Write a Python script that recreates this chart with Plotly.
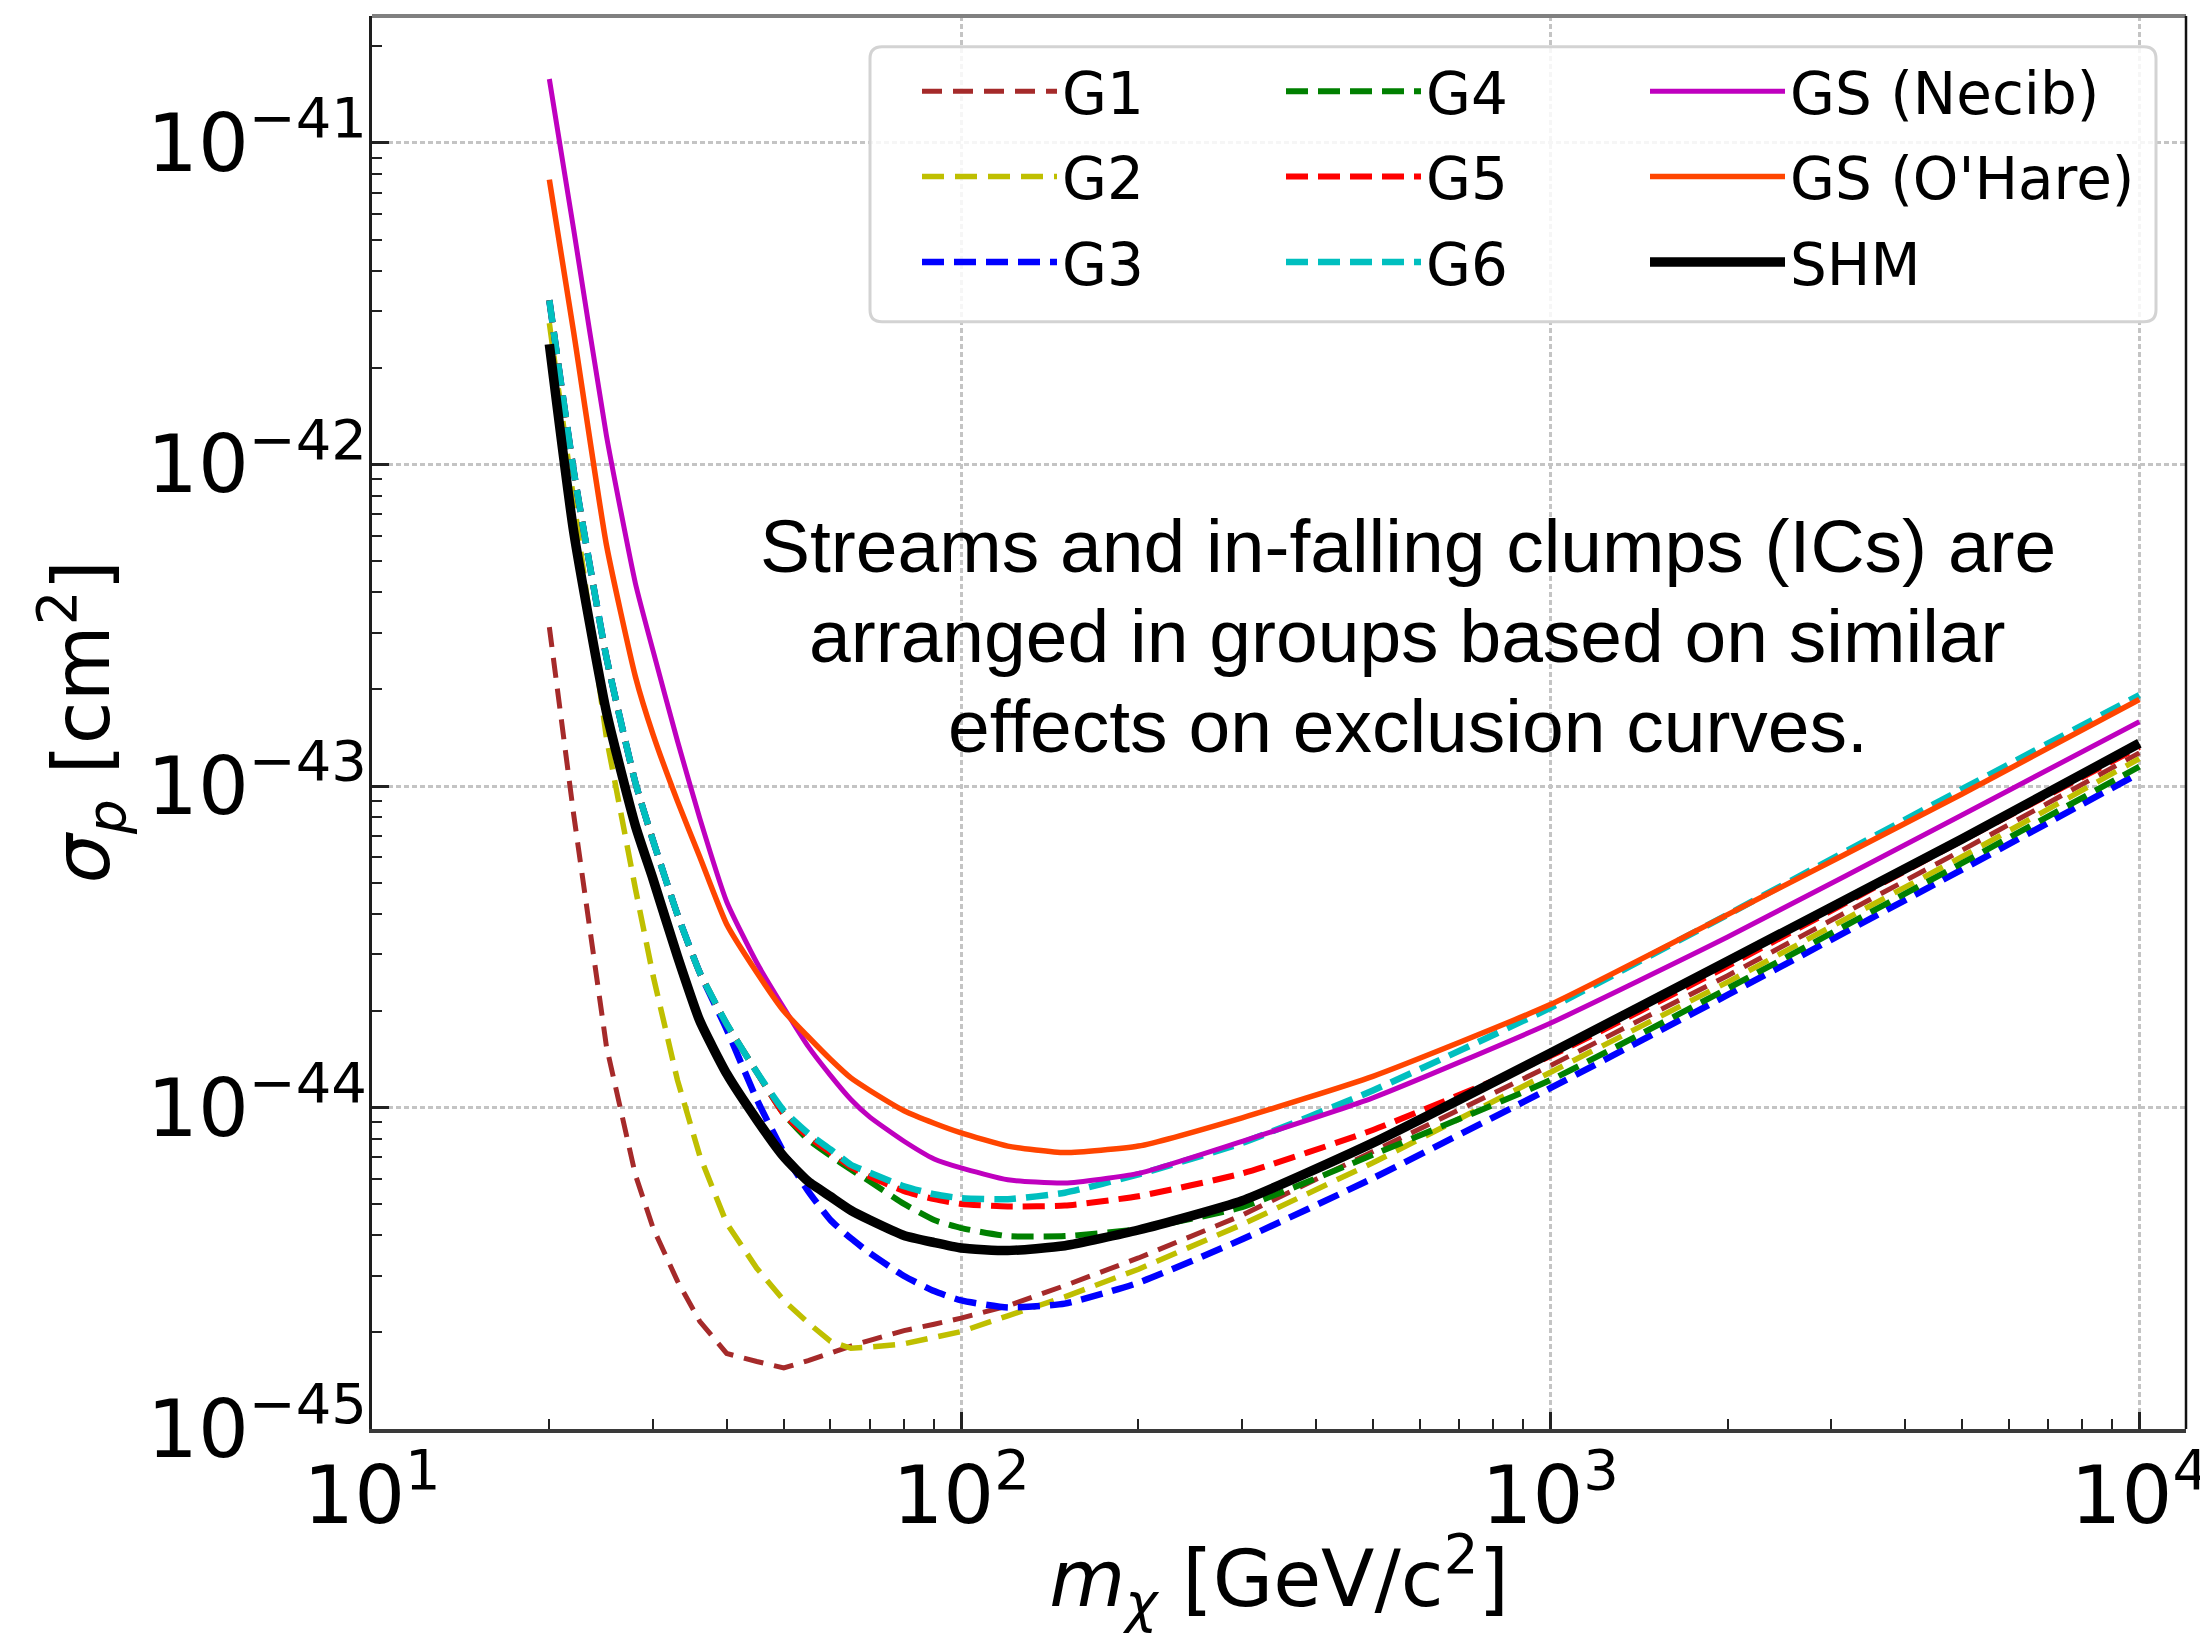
import plotly.graph_objects as go

# ---------------- data ----------------
MASS_GEV = [20, 22, 25, 28, 30, 33, 36, 40, 45, 50, 55, 60, 65, 70, 80, 90,
            100, 120, 150, 200, 300, 500, 1000, 2000, 5000, 10000]

# log10(sigma_p / cm^2) at each mass of MASS_GEV
LOG_SIGMA_G1 = [-42.506, -43.09, -43.81, -44.21, -44.375, -44.54, -44.665, -44.765, -44.79,
                -44.81, -44.787, -44.762, -44.742, -44.724, -44.694, -44.674, -44.655,
                -44.617, -44.554, -44.468, -44.335, -44.137, -43.87, -43.59, -43.20, -42.897]
LOG_SIGMA_G2 = [-41.56, -42.12, -42.85, -43.32, -43.59, -43.915, -44.15, -44.36, -44.50,
                -44.60, -44.67, -44.727, -44.749, -44.745, -44.735, -44.715, -44.697,
                -44.648, -44.589, -44.503, -44.364, -44.172, -43.89, -43.61, -43.22, -42.915]
LOG_SIGMA_G3 = [-41.489, -42.02, -42.60, -42.99, -43.17, -43.40, -43.58, -43.757, -43.975,
                -44.14, -44.26, -44.35, -44.407, -44.453, -44.524, -44.571, -44.60,
                -44.622, -44.61, -44.545, -44.41, -44.22, -43.94, -43.65, -43.26, -42.96]
LOG_SIGMA_G4 = [-41.489, -42.02, -42.60, -42.99, -43.17, -43.40, -43.58, -43.74, -43.89,
                -44.02, -44.10, -44.15, -44.193, -44.23, -44.30, -44.35, -44.375,
                -44.40, -44.40, -44.378, -44.31, -44.147, -43.915, -43.63, -43.24, -42.94]
LOG_SIGMA_G5 = [-41.489, -42.02, -42.60, -42.99, -43.17, -43.40, -43.58, -43.74, -43.89,
                -44.02, -44.09, -44.14, -44.185, -44.215, -44.26, -44.285, -44.30,
                -44.308, -44.305, -44.276, -44.205, -44.07, -43.84, -43.56, -43.17, -42.879]
LOG_SIGMA_G6 = [-41.489, -42.02, -42.60, -42.99, -43.17, -43.40, -43.58, -43.74, -43.89,
                -44.01, -44.08, -44.13, -44.178, -44.203, -44.245, -44.27, -44.282,
                -44.285, -44.265, -44.208, -44.11, -43.947, -43.69, -43.40, -43.01, -42.717]
LOG_SIGMA_GS_NECIB = [-40.801, -41.27, -41.91, -42.37, -42.58, -42.86, -43.10, -43.36, -43.55,
                      -43.69, -43.81, -43.90, -43.975, -44.03, -44.105, -44.16, -44.188,
                      -44.225, -44.235, -44.205, -44.105, -43.97, -43.738, -43.47, -43.09, -42.80]
LOG_SIGMA_GS_OHARE = [-41.114, -41.59, -42.25, -42.66, -42.84, -43.047, -43.22, -43.43, -43.58,
                      -43.70, -43.78, -43.85, -43.908, -43.947, -44.01, -44.049, -44.079,
                      -44.12, -44.14, -44.12, -44.032, -43.903, -43.68, -43.40, -43.025, -42.731]
LOG_SIGMA_SHM = [-41.626, -42.21, -42.77, -43.124, -43.29, -43.53, -43.73, -43.895, -44.038,
                 -44.153, -44.23, -44.277, -44.32, -44.35, -44.398, -44.42, -44.437,
                 -44.445, -44.43, -44.381, -44.29, -44.11, -43.831, -43.545, -43.165, -42.867]

SERIES_NAMES = ["G1", "G2", "G3", "G4", "G5", "G6", "GS (Necib)", "GS (O'Hare)", "SHM"]
SERIES_LOGS = [LOG_SIGMA_G1, LOG_SIGMA_G2, LOG_SIGMA_G3, LOG_SIGMA_G4, LOG_SIGMA_G5,
               LOG_SIGMA_G6, LOG_SIGMA_GS_NECIB, LOG_SIGMA_GS_OHARE, LOG_SIGMA_SHM]

X_TICK_VALUES = [10, 100, 1000, 10000]
X_TICK_LABELS = ["10<sup>1</sup>", "10<sup>2</sup>", "10<sup>3</sup>", "10<sup>4</sup>"]
Y_TICK_VALUES = [1e-45, 1e-44, 1e-43, 1e-42, 1e-41]
Y_TICK_LABELS = ["10<sup>\u221245</sup>", "10<sup>\u221244</sup>", "10<sup>\u221243</sup>",
                 "10<sup>\u221242</sup>", "10<sup>\u221241</sup>"]

X_TITLE = "<i>m</i><sub><i>\u03c7</i></sub> [GeV/c<sup>2</sup>]"
Y_TITLE = "<i>\u03c3</i><sub><i>p</i></sub> [cm<sup>2</sup>]"
ANNOTATION_LINES = ["Streams and in-falling clumps (ICs) are",
                    "arranged in groups based on similar",
                    "effects on exclusion curves."]

# ---------------- styles ----------------
STYLES = {
    "G1": dict(color="#a52a2a", width=5, dash="20px,11px", legend="legend", shape="linear"),
    "G2": dict(color="#bfbf00", width=5.5, dash="22px,11px", legend="legend", shape="linear"),
    "G3": dict(color="#0000ff", width=6.5, dash="22px,10px", legend="legend", shape="spline"),
    "G4": dict(color="#008000", width=6, dash="22px,10px", legend="legend2", shape="spline"),
    "G5": dict(color="#ff0000", width=6, dash="22px,10px", legend="legend2", shape="spline"),
    "G6": dict(color="#00bfbf", width=6.5, dash="22px,10px", legend="legend2", shape="spline"),
    "GS (Necib)": dict(color="#bf00bf", width=5, dash="solid", legend="legend3", shape="spline"),
    "GS (O'Hare)": dict(color="#ff4500", width=5.5, dash="solid", legend="legend3", shape="spline"),
    "SHM": dict(color="#000000", width=9.5, dash="solid", legend="legend3", shape="spline"),
}

# The page body adds an 8 px offset, so the figure is drawn 8 px smaller and
# all target positions (measured in the 2208x1635 picture) are shifted by 8 px.
OFF = 8
W, H = 2208 - OFF, 1635 - OFF
PLOT_L, PLOT_R, PLOT_T, PLOT_B = 372, 2186, 16, 1429      # picture pixels
L_M, R_M = PLOT_L - OFF, 2208 - PLOT_R
T_M, B_M = PLOT_T - OFF, 1635 - PLOT_B
PW, PH = PLOT_R - PLOT_L, PLOT_B - PLOT_T


def px_to_paper_x(px):
    return (px - PLOT_L) / PW


def px_to_paper_y(py):
    return 1 - (py - PLOT_T) / PH


fig = go.Figure()
for name, logs in zip(SERIES_NAMES, SERIES_LOGS):
    st = STYLES[name]
    fig.add_trace(go.Scatter(
        x=MASS_GEV, y=[10 ** v for v in logs], mode="lines", name=name,
        line=dict(color=st["color"], width=st["width"], dash=st["dash"],
                  shape=st["shape"], smoothing=0.5),
        legend=st["legend"], legendgroup=name, hoverinfo="skip"))

x_minor = [k * 10 ** n for n in (1, 2, 3) for k in range(2, 10)]
y_minor = [k * 10.0 ** n for n in (-45, -44, -43, -42, -41) for k in range(2, 10)
           if k * 10.0 ** n < 2.4e-41]

tick_font = dict(family="DejaVu Sans", size=80, color="black")
title_font = dict(family="DejaVu Sans", size=78, color="black")
grid_kw = dict(showgrid=True, gridcolor="#c4c4c4", gridwidth=2.5, griddash="5px,3px")

fig.update_xaxes(
    type="log", range=[1, 4.0792], tickmode="array", tickvals=X_TICK_VALUES,
    ticktext=X_TICK_LABELS, ticks="inside", ticklen=17, tickwidth=2.5, tickcolor="#222",
    showline=True, linecolor="#3a3a3a", linewidth=3.5, zeroline=False,
    tickfont=tick_font, automargin=False, ticklabeloverflow="allow", ticklabelstandoff=-6,
    title=dict(text=X_TITLE, font=title_font, standoff=30),
    minor=dict(tickmode="array", tickvals=x_minor, ticks="inside", ticklen=10,
               tickwidth=2, tickcolor="#222", showgrid=False),
    **grid_kw)
fig.update_yaxes(
    type="log", range=[-45, -40.605], tickmode="array", tickvals=Y_TICK_VALUES,
    ticktext=Y_TICK_LABELS, ticks="inside", ticklen=17, tickwidth=2.5, tickcolor="#222",
    showline=True, linecolor="#1e1e1e", linewidth=3, zeroline=False,
    tickfont=tick_font, automargin=False, ticklabeloverflow="allow", ticklabelstandoff=-14,
    minor=dict(tickmode="array", tickvals=y_minor, ticks="inside", ticklen=10,
               tickwidth=2, tickcolor="#222", showgrid=False),
    **grid_kw)

# legend frame (rounded) and the top/right spines
x0, x1 = px_to_paper_x(870), px_to_paper_x(2156)
y0, y1 = px_to_paper_y(321.7), px_to_paper_y(46.7)
rx, ry = 12 / PW, 12 / PH
frame_path = (f"M{x0+rx},{y1} L{x1-rx},{y1} Q{x1},{y1} {x1},{y1-ry} L{x1},{y0+ry} "
              f"Q{x1},{y0} {x1-rx},{y0} L{x0+rx},{y0} Q{x0},{y0} {x0},{y0+ry} "
              f"L{x0},{y1-ry} Q{x0},{y1} {x0+rx},{y1} Z")
shapes = [
    dict(type="path", path=frame_path, xref="paper", yref="paper",
         fillcolor="rgba(255,255,255,0.85)", line=dict(color="#d3d3d3", width=3), layer="above"),
    dict(type="line", xref="paper", yref="paper", x0=0, x1=1, y0=1, y1=1,
         line=dict(color="#808080", width=4), layer="above"),
    dict(type="line", xref="paper", yref="paper", x0=1, x1=1, y0=0, y1=1,
         line=dict(color="#111111", width=2.5), layer="above"),
]

ITEM_W = 135
TEXT_GAP = ITEM_W + 10
leg_common = dict(orientation="v", xanchor="left", yanchor="top", bgcolor="rgba(0,0,0,0)",
                  borderwidth=0, font=dict(family="DejaVu Sans", size=58, color="black"),
                  itemwidth=ITEM_W, tracegroupgap=7, traceorder="grouped",
                  y=px_to_paper_y(47))

annotations = []
for i, line in enumerate(ANNOTATION_LINES):
    annotations.append(dict(
        text=line, xref="paper", yref="paper", x=px_to_paper_x(1407.5),
        y=px_to_paper_y(545.7 + 90 * i), xanchor="center", yanchor="middle",
        showarrow=False, font=dict(family="Liberation Sans", size=75, color="black")))
# y-axis title, placed where the reference draws it
annotations.append(dict(
    text=Y_TITLE, xref="paper", yref="paper", x=px_to_paper_x(82), y=0.5,
    xanchor="center", yanchor="middle", textangle=-90, showarrow=False,
    font=title_font))

fig.update_layout(
    width=W, height=H, autosize=False,
    margin=dict(l=L_M, r=R_M, t=T_M, b=B_M, autoexpand=False),
    paper_bgcolor="white", plot_bgcolor="white",
    font=dict(family="DejaVu Sans", color="black"),
    showlegend=True,
    legend=dict(x=px_to_paper_x(1062 - TEXT_GAP), **leg_common),
    legend2=dict(x=px_to_paper_x(1426 - TEXT_GAP), **leg_common),
    legend3=dict(x=px_to_paper_x(1790 - TEXT_GAP), **leg_common),
    shapes=shapes, annotations=annotations,
)

fig.write_html("out.html")
